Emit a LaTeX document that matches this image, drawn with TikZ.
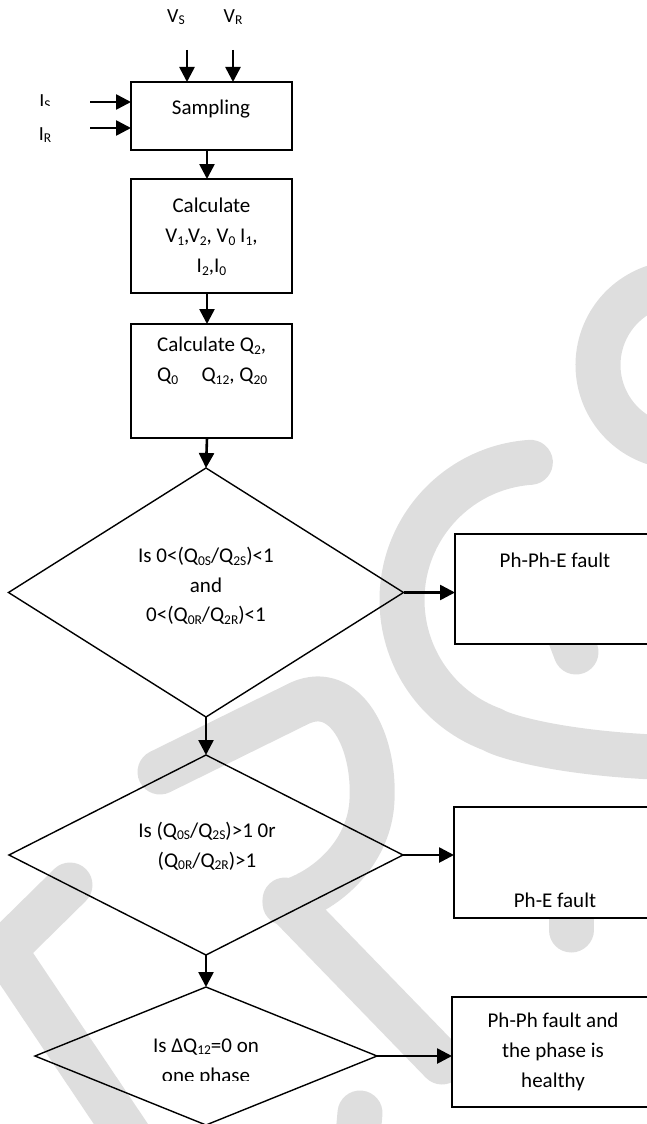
\documentclass[tikz,border=0pt]{standalone}
\usepackage{fontspec}
\setmainfont{Carlito}
\usetikzlibrary{arrows.meta,shapes.geometric}
\definecolor{wm}{RGB}{222,222,222}
\newcommand\sbs[1]{\raisebox{-0.13em}{\fontsize{13.5pt}{13.5pt}\selectfont #1}}
\tikzset{
  boxnode/.style={draw=black, line width=1.8pt, fill=white, rectangle, inner sep=0pt, outer sep=0pt},
  dianode/.style={draw=black, line width=1.4pt, diamond, inner sep=0pt, outer sep=0pt},
  txt/.style={font=\fontsize{21pt}{30pt}\selectfont, align=center, inner sep=0pt},
  lbl/.style={font=\fontsize{20pt}{24pt}\selectfont, inner sep=0pt},
  arr/.style={-{Triangle[length=15pt,width=15pt]}, line width=2.6pt},
  wmark/.style={draw=wm, line width=45pt, line cap=round, line join=round},
}
\begin{document}
\begin{tikzpicture}[x=1pt,y=-1pt]
\useasboundingbox (0,0) rectangle (647,1124);
\begin{scope}
\clip (0,0) rectangle (647,1124);
% watermark
\draw[wmark] (680,365) ++(-75:82) arc[start angle=-75, end angle=-285, radius=82];
\draw[wmark] (540,600) ++(-94:138) arc[start angle=-94, end angle=-250, radius=138]
  .. controls (500,735) and (560,755) .. (680,758);
\draw[wmark] (560,610) -- (576,652);
\draw[wmark] (571,880) -- (571,930);
\draw[wmark] (160,772) -- (300,703)
  .. controls (345,683) and (375,740) .. (372,800)
  .. controls (370,850) and (330,890) .. (285,903);
\draw[wmark] (285,900) -- (442,1062);
\draw[wmark] (135,1145) -- (4,950) -- (70,885);
\draw[wmark] (360,1113) -- (355,1170);
% shapes
\node[boxnode, minimum width=161pt, minimum height=68pt] (samp) at (211.5,116) {};
\node[boxnode, minimum width=161pt, minimum height=114pt] (calc1) at (211.5,236) {};
\node[boxnode, minimum width=161pt, minimum height=114pt] (calc2) at (211.5,381) {};
\node[dianode, minimum width=395pt, minimum height=249pt] (dia1) at (206,592.5) {};
\node[dianode, minimum width=394pt, minimum height=200pt] (dia2) at (206,855) {};
\node[dianode, minimum width=342pt, minimum height=138pt] (dia3) at (206,1056) {};
\node[boxnode, minimum width=200pt, minimum height=110pt, anchor=north west] (phphe) at (455,534) {};
\node[boxnode, minimum width=200pt, minimum height=111pt, anchor=north west] (phe) at (454,807) {};
\node[boxnode, minimum width=200pt, minimum height=110pt, anchor=north west] (phph) at (452,997) {};
\end{scope}
% texts
\node[lbl] (vs) at (176,17) {V\sbs{S}};
\node[lbl] (vr) at (233,17) {V\sbs{R}};
\begin{scope}
\clip (0,0) rectangle (130,105.5);
\node[lbl] (is) at (45,102) {I\sbs{S}};
\end{scope}
\node[lbl] (ir) at (45,135) {I\sbs{R}};
\node[txt] (tsamp) at (211,109) {Sampling};
\node[txt] (tcalc1) at (211.5,237) {Calculate\\V\sbs{1},V\sbs{2}, V\sbs{0} I\sbs{1},\\I\sbs{2},I\sbs{0}};
\node[txt, align=left, anchor=north west] (tcalc2) at (157,337) {Calculate Q\sbs{2},\\\makebox[110pt][l]{Q\sbs{0}\hfill Q\sbs{12}, Q\sbs{20}}};
\node[txt, font=\fontsize{21pt}{29.5pt}\selectfont] (tdia1) at (206,586) {Is 0<(Q\sbs{0S}/Q\sbs{2S})<1\\and\\0<(Q\sbs{0R}/Q\sbs{2R})<1};
\node[txt] (tdia2) at (207,846) {Is (Q\sbs{0S}/Q\sbs{2S})>1 0r\\(Q\sbs{0R}/Q\sbs{2R})>1};
\begin{scope}
\clip (0,0) rectangle (647,1080);
\node[txt] (tdia3) at (206,1062) {Is ΔQ\sbs{12}=0 on\\one phase};
\end{scope}
\node[txt] (tphphe) at (555,560) {Ph-Ph-E fault};
\node[txt] (tphe) at (555,900) {Ph-E fault};
\node[txt] (tphph) at (553,1052) {Ph-Ph fault and\\the phase is\\healthy};
% connectors
\coordinate (vsS) at (187,50);
\coordinate (vrS) at (233,50);
\coordinate (isS) at (90,102);
\coordinate (irS) at (90,128);
\coordinate (ax) at (207,0);
\draw[arr] (vsS) -- (vsS |- samp.north);
\draw[arr] (vrS) -- (vrS |- samp.north);
\draw[arr] (isS) -- (isS -| samp.west);
\draw[arr] (irS) -- (irS -| samp.west);
\draw[arr] (ax |- samp.south) -- (ax |- calc1.north);
\draw[arr] (ax |- calc1.south) -- (ax |- calc2.north);
\draw[arr] (ax |- calc2.south) -- (dia1.north);
\draw[arr] (dia1.south) -- (dia2.north);
\draw[arr] (dia2.south) -- (dia3.north);
\draw[arr] (dia1.east) -- (dia1.east -| phphe.west);
\draw[arr] (dia2.east) -- (dia2.east -| phe.west);
\draw[arr] (dia3.east) -- (dia3.east -| phph.west);
\end{tikzpicture}
\end{document}
